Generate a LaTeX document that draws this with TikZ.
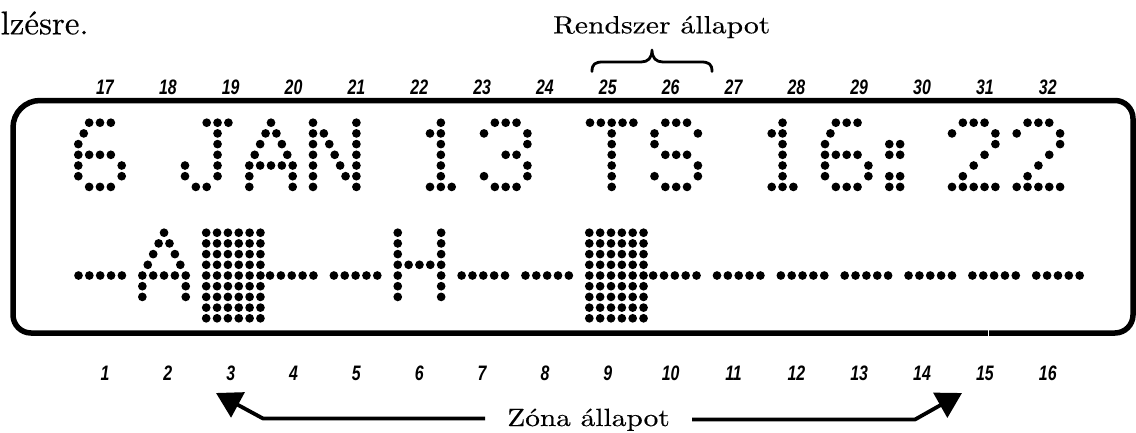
\documentclass[tikz,border=0pt]{standalone}
\usepackage{fontspec}
\usepackage{graphicx}
\newfontfamily\numfont[FakeStretch=0.76]{Liberation Sans}
\newfontfamily\serfont[FakeBold=0.3]{lmroman10-regular.otf}
\usetikzlibrary{arrows.meta}
\def\DX{10.85}
\def\DY{10.7}
\def\DR{4.35bp}
\newcommand\dotglyph[3]{\foreach \gc/\gr in #3 {\fill ({#1+\gc*\DX},{#2+\gr*\DY}) circle[radius=\DR];}}
\newcommand\dotblock[2]{\foreach \gc in {0,...,5} {\foreach \gr in {0,...,8} {\fill ({#1+\gc*\DX},{#2+\gr*\DY}) circle[radius=\DR];}}}
\def\gSix{1/0,2/0,3/0,0.5/1,0/2,0/3,1/3,2/3,3/3,0/4,4/4,0/5,4/5,1/6,2/6,3/6}
\def\gJ{2/0,3/0,4/0,3/1,3/2,3/3,3/4,3/5,0/4,0/5,1/6,2/6}
\def\gA{2/0,1.5/1,2.5/1,1/2,3/2,0.5/3,3.5/3,0/4,1/4,2/4,3/4,4/4,0/5,4/5,0/6,4/6}
\def\gN{0/0,0/1,0/2,0/3,0/4,0/5,0/6,4/0,4/1,4/2,4/3,4/4,4/5,4/6,1/1,1.5/2,2/3,2.5/4,3/5}
\def\gOne{1/0,0/1,1/1,1/2,1/3,1/4,1/5,0/6,1/6,2/6}
\def\gThree{1/0,2/0,3/0,0/1,4/1,4/2,2/3,3/3,4/4,0/5,4/5,1/6,2/6,3/6}
\def\gT{0/0,1/0,2/0,3/0,4/0,2/1,2/2,2/3,2/4,2/5,2/6}
\def\gS{1/0,2/0,3/0,0/1,4/1,0/2,1/3,2/3,3/3,4/4,0/5,4/5,1/6,2/6,3/6}
\def\gColon{0/2,1/2,0/3,1/3,0/5,1/5,0/6,1/6}
\def\gTwo{1/0,2/0,3/0,0/1,4/1,4/2,3/3,2/4,1/5,0/6,1/6,2/6,3/6,4/6}
\def\gH{0/0,0/1,0/2,0/3,0/4,0/5,0/6,4/0,4/1,4/2,4/3,4/4,4/5,4/6,1/3,2/3,3/3}
\def\gDash{0/4,1/4,2/4,3/4,4/4}
\begin{document}
\begin{tikzpicture}[x=1bp,y=-1bp,
  numlab/.style={font={\numfont\bfseries\itshape\fontsize{21}{21}\selectfont}, inner sep=0pt},
  serlab/.style={font={\serfont\fontsize{25}{25}\selectfont}, inner sep=0pt},
  lcdframe/.style={line width=5.5bp},
  zarrow/.style={line width=3.8bp, line join=round, -{Triangle[length=25bp,width=28bp]}},
  bracestyle/.style={line width=2.8bp, line cap=round, line join=round}]
\useasboundingbox (0,0) rectangle (1136,432);

% cut-off text of the page
\node[anchor=base west, inner sep=0pt, font={\serfont\fontsize{33}{33}\selectfont}] (cut) at (0.5,34.3) {lzésre.};

% LCD frame
\draw[lcdframe] (500,100.5) [rounded corners=18bp] -- (1133,100.5) -- (1133,333) -- (13,333)
  [rounded corners=27bp] -- (13,100.5) -- cycle;
\draw[white, line width=1bp] (988,329.5) -- (988,336.5);

% position numbers
\foreach \k in {17,...,32} \node[numlab] (t\k) at ({105+(\k-17)*62.85},87) {\k};
\foreach \k in {1,...,16} \node[numlab] (b\k) at ({105+(\k-1)*62.85},373.5) {\k};

% system status
\node[serlab, anchor=base] (rendszer) at (661.7,33.3) {\scalebox{1.19}[1]{Rendszer állapot}};
\draw[bracestyle] (592,71.5) .. controls (592,64) and (595,62) .. (603,62) -- (641,62)
  .. controls (648,62) and (652,58) .. (652,50)
  .. controls (652,58) and (656,62) .. (663,62) -- (701,62)
  .. controls (709,62) and (712,64) .. (712,71.5);

% zone status
\node[serlab, anchor=base] (zona) at (588.5,426) {\scalebox{1.18}[1]{Zóna állapot}};
\coordinate (ls) at (485,418.5);
\coordinate (lk) at (263,418.5);
\coordinate (la) at (216,393);
\coordinate (rs) at (692,419.5);
\coordinate (rk) at (915,419.5);
\coordinate (ra) at (962,393);
\draw[zarrow] (ls) -- (lk) -- (la);
\draw[zarrow] (rs) -- (rk) -- (ra);

% top row: 6 JAN 13 TS 16: 22
\dotglyph{78.3}{122.7}{\gSix}
\dotglyph{185}{122.7}{\gJ}
\dotglyph{249.3}{122.7}{\gA}
\dotglyph{313}{122.7}{\gN}
\dotglyph{430}{122.7}{\gOne}
\dotglyph{484}{122.7}{\gThree}
\dotglyph{590}{122.7}{\gT}
\dotglyph{654.5}{122.7}{\gS}
\dotglyph{771.7}{122.7}{\gOne}
\dotglyph{825}{122.7}{\gSix}
\dotglyph{889.3}{122.7}{\gColon}
\dotglyph{952}{122.7}{\gTwo}
\dotglyph{1016.7}{122.7}{\gTwo}

% bottom row: zone status
\dotglyph{78.5}{232.7}{\gDash}
\dotglyph{142.35}{232.7}{\gA}
\dotblock{206.2}{232.7}
\dotglyph{270.05}{232.7}{\gDash}
\dotglyph{333.9}{232.7}{\gDash}
\dotglyph{397.75}{232.7}{\gH}
\dotglyph{461.6}{232.7}{\gDash}
\dotglyph{525.45}{232.7}{\gDash}
\dotblock{589.3}{232.7}
\dotglyph{653.15}{232.7}{\gDash}
\dotglyph{717}{232.7}{\gDash}
\dotglyph{780.85}{232.7}{\gDash}
\dotglyph{844.7}{232.7}{\gDash}
\dotglyph{908.55}{232.7}{\gDash}
\dotglyph{972.4}{232.7}{\gDash}
\dotglyph{1036.25}{232.7}{\gDash}
\end{tikzpicture}
\end{document}
